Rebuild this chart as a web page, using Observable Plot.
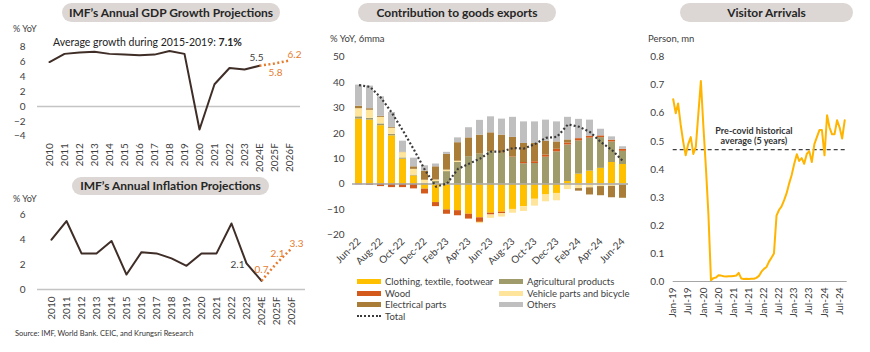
<!DOCTYPE html>
<html><head><meta charset="utf-8">
<script src="https://cdn.jsdelivr.net/npm/d3@7"></script>
<script src="https://cdn.jsdelivr.net/npm/@observablehq/plot@0.6"></script>
<style>
body{margin:0;background:#fff;font-family:Lato,"Open Sans",sans-serif;}
#wrap{position:relative;width:870px;height:352px;overflow:hidden;background:#fff}
.pill{position:absolute;background:#DCD7D4;border-radius:10px;text-align:center;font-weight:700;font-size:12px;color:#262626;white-space:nowrap}
.lbl{position:absolute;font-size:9px;color:#404040;white-space:nowrap}
.chart{position:absolute}
.chart svg{overflow:visible}
.leg{position:absolute;font-size:9.5px;color:#404040;white-space:nowrap;display:flex;align-items:center}
.sw{display:inline-block;width:24px;height:5px;margin-right:4px}
</style></head><body><div id="wrap"></div>
<script>
// ---------- DATA ----------
const years = ["2010","2011","2012","2013","2014","2015","2016","2017","2018","2019","2020","2021","2022","2023","2024E","2025F","2026F"];
const gdpGrowth = [6.0, 7.1, 7.3, 7.4, 7.1, 7.0, 6.9, 7.0, 7.5, 7.1, -3.1, 3.0, 5.2, 5.0, 5.5, 5.8, 6.2];
const inflation = [4.0, 5.5, 2.9, 2.9, 3.9, 1.2, 3.0, 2.9, 2.5, 1.9, 2.9, 2.9, 5.3, 2.1, 0.7, 2.1, 3.3];
const firstForecastYear = "2024E";
const gdpTicks = [-4, -2, 0, 2, 4, 6, 8];
const inflTicks = [0, 2, 4, 6];

const months = ["Jun-22","Jul-22","Aug-22","Sep-22","Oct-22","Nov-22","Dec-22","Jan-23","Feb-23","Mar-23","Apr-23","May-23","Jun-23","Jul-23","Aug-23","Sep-23","Oct-23","Nov-23","Dec-23","Jan-24","Feb-24","Mar-24","Apr-24","May-24","Jun-24"];
const clothing     = [25.6, 25.2, 23.0, 19.0, 9.8, 3.2, -2.0, -7.3, -10.2, -10.5, -11.9, -13.3, -11.5, -11.1, -10.0, -8.9, -6.0, -4.3, -3.7, 1.0, 3.9, 5.1, 6.2, 8.5, 7.7];
const agricultural = [0.9, 0.7, 0.7, 0.6, 0.5, 0.3, 0.3, 1.0, 4.9, 8.5, 10.8, 11.8, 12.7, 12.1, 10.5, 8.0, 8.1, 10.6, 12.7, 14.4, 13.1, 13.0, 12.1, 8.1, 5.2];
const wood         = [-0.3, -0.5, -1.0, -1.4, -1.4, -1.9, -1.9, -1.6, -1.7, -2.0, -1.9, -1.8, -0.7, -0.6, 0.2, 0.5, 0.7, 0.8, 1.0, 0.8, 0.9, 0.8, 0.7, 0.7, 0.8];
const vehicle      = [3.2, 3.2, 2.6, 2.4, 2.1, 2.3, 1.2, 0.6, 0.6, 0.5, 0.0, -0.5, -1.3, -1.3, -1.5, -1.9, -2.7, -2.7, -2.9, -2.2, -1.8, -1.5, -1.0, -0.9, -0.4];
const electrical   = [1.0, 0.6, 0.4, 0.3, 0.2, 1.0, 3.6, 5.2, 6.2, 7.3, 7.4, 7.5, 7.5, 7.2, 7.7, 7.5, 7.2, 5.5, 2.9, 1.2, -1.0, -2.8, -3.6, -4.5, -5.2];
const others       = [8.3, 8.9, 7.7, 5.9, 4.3, 3.4, 2.1, 1.1, 0.8, 1.9, 4.0, 5.8, 6.3, 6.3, 7.9, 8.5, 8.5, 8.3, 7.9, 8.9, 7.6, 6.3, 2.6, 1.3, 1.0];
const total        = [39.0, 38.3, 34.0, 28.0, 21.0, 13.5, 5.5, -1.0, 0.2, 6.0, 8.0, 10.0, 12.8, 12.8, 14.2, 14.0, 15.8, 18.2, 18.6, 23.5, 22.6, 20.5, 16.5, 13.4, 9.0];
const seriesNames = ["Clothing, textile, footwear","Agricultural products","Wood","Vehicle parts and bicycle","Electrical parts","Others"];
const seriesColors = ["#FFC000","#A09B6B","#D35A1A","#FFE59B","#A97C38","#BFBFBF"];
const exportTicks = [-20, -10, 0, 10, 20, 30, 40, 50];

const arrivalsStartYear = 2019;
const arrivals = [
  0.65, 0.60, 0.635, 0.56, 0.50, 0.45, 0.49, 0.515, 0.455, 0.48, 0.60, 0.715,
  0.55, 0.40, 0.24, 0.005, 0.012, 0.014, 0.022, 0.021, 0.019, 0.018, 0.019, 0.019,
  0.020, 0.021, 0.031, 0.011, 0.009, 0.010, 0.009, 0.010, 0.010, 0.013, 0.020, 0.035,
  0.045, 0.052, 0.070, 0.085, 0.100, 0.235, 0.255, 0.268, 0.290, 0.315, 0.350, 0.380,
  0.420, 0.454, 0.430, 0.440, 0.420, 0.455, 0.465, 0.426, 0.490, 0.515, 0.540, 0.540,
  0.450, 0.593, 0.550, 0.525, 0.525, 0.575, 0.550, 0.510, 0.575
];
const preCovidAverage = 0.47;
const arrivalTicks = [0, 0.1, 0.2, 0.3, 0.4, 0.5, 0.6, 0.7, 0.8];

// ---------- HELPERS ----------
const wrap = document.getElementById("wrap");
function place(el, left, top) { el.classList.add("chart"); el.style.left = left + "px"; el.style.top = top + "px"; wrap.appendChild(el); }
function div(cls, html, css) { const d = document.createElement("div"); d.className = cls; d.innerHTML = html; Object.assign(d.style, css); wrap.appendChild(d); return d; }
const baseStyle = {fontFamily: "Lato, 'Open Sans', sans-serif", fontSize: "10px", color: "#404040", background: "none", overflow: "visible"};
const DARK = "#3F2D27", ORANGE = "#E57C2F";

// ---------- GDP ----------
const fi = years.indexOf(firstForecastYear);
const gdpRows = years.map((y, i) => ({year: y, v: gdpGrowth[i]}));
const gdpChart = Plot.plot({
  width: 310, height: 172,
  marginLeft: 37, marginRight: 10, marginTop: 46.7, marginBottom: 172 - 135.7,
  style: baseStyle,
  x: {type: "point", domain: years, padding: 0.5, tickRotate: -90, tickSize: 0, tickPadding: 7, label: null},
  y: {domain: [-4, 8], ticks: gdpTicks, tickFormat: "d", tickSize: 0, tickPadding: 12, label: null},
  marks: [
    Plot.ruleY([0], {stroke: "#C4C4C4", strokeWidth: 1.5}),
    Plot.line(gdpRows.slice(0, fi + 1), {x: "year", y: "v", stroke: DARK, strokeWidth: 2}),
    Plot.line(gdpRows.slice(fi), {x: "year", y: "v", stroke: ORANGE, strokeWidth: 2.5, strokeDasharray: "2,2.5", strokeLinecap: "butt"}),
    Plot.text(gdpRows.slice(fi, fi + 1), {x: "year", y: "v", text: d => d.v.toFixed(1), fill: "#404040", dx: -3, dy: -8, fontSize: 10}),
    Plot.text(gdpRows.slice(fi + 1, fi + 2), {x: "year", y: "v", text: d => d.v.toFixed(1), fill: ORANGE, dx: 1, dy: 9, fontSize: 10}),
    Plot.text(gdpRows.slice(fi + 2), {x: "year", y: "v", text: d => d.v.toFixed(1), fill: ORANGE, dx: 5, dy: -6, fontSize: 10})
  ]
});
place(gdpChart, 0, 0);

// ---------- INFLATION ----------
const inflRows = years.map((y, i) => ({year: y, v: inflation[i]}));
const inflChart = Plot.plot({
  width: 310, height: 172,
  marginLeft: 37, marginRight: 5, marginTop: 44.3, marginBottom: 53,
  style: baseStyle,
  x: {type: "point", domain: years, padding: 0.5, tickRotate: -90, tickSize: 0, tickPadding: 7, label: null},
  y: {domain: [0, 6], ticks: inflTicks, tickFormat: "d", tickSize: 0, tickPadding: 12, label: null},
  marks: [
    Plot.ruleY([0], {stroke: "#C4C4C4", strokeWidth: 1.5}),
    Plot.line(inflRows.slice(0, fi + 1), {x: "year", y: "v", stroke: DARK, strokeWidth: 2}),
    Plot.line(inflRows.slice(fi), {x: "year", y: "v", stroke: ORANGE, strokeWidth: 2.5, strokeDasharray: "2,2.5", strokeLinecap: "butt"}),
    Plot.text(inflRows.slice(fi - 1, fi), {x: "year", y: "v", text: d => d.v.toFixed(1), fill: "#404040", dx: -9, dy: 1, fontSize: 10}),
    Plot.text(inflRows.slice(fi, fi + 1), {x: "year", y: "v", text: d => d.v.toFixed(1), fill: ORANGE, dx: 0, dy: -11, fontSize: 10}),
    Plot.text(inflRows.slice(fi + 1, fi + 2), {x: "year", y: "v", text: d => d.v.toFixed(1), fill: ORANGE, dx: 1, dy: -10, fontSize: 10}),
    Plot.text(inflRows.slice(fi + 2), {x: "year", y: "v", text: d => d.v.toFixed(1), fill: ORANGE, dx: 5, dy: -5, fontSize: 10})
  ]
});
place(inflChart, 0, 170);

// ---------- EXPORTS ----------
const seriesValues = [clothing, agricultural, wood, vehicle, electrical, others];
const barRows = [];
months.forEach((m, i) => seriesNames.forEach((s, k) => barRows.push({month: m, series: s, value: seriesValues[k][i]})));
const totalRows = months.map((m, i) => ({month: m, total: total[i]}));
const expChart = Plot.plot({
  width: 330, height: 275,
  marginLeft: 47, marginRight: 7, marginTop: 56.7, marginBottom: 275 - 234.3,
  style: baseStyle,
  x: {type: "band", domain: months, paddingInner: 0.4, paddingOuter: 0.2, ticks: months.filter((d, i) => i % 2 === 0), tickRotate: -45, tickSize: 0, tickPadding: 5, label: null},
  y: {domain: [-20, 50], ticks: exportTicks, tickSize: 0, tickPadding: 8, label: null},
  color: {domain: seriesNames, range: seriesColors},
  marks: [
    Plot.barY(barRows, {x: "month", y: "value", fill: "series", order: seriesNames}),
    Plot.ruleY([0], {stroke: "#A6A6A6", strokeWidth: 1.5}),
    Plot.line(totalRows, {x: "month", y: "total", stroke: "#3A3A3A", strokeWidth: 2.2, strokeDasharray: "2,2.2", strokeLinecap: "butt"})
  ]
});
place(expChart, 305, 0);

// ---------- VISITORS ----------
const t0 = new Date(Date.UTC(arrivalsStartYear, 0, 1));
const arrRows = arrivals.map((v, i) => ({date: d3.utcMonth.offset(t0, i), v}));
const xEnd = d3.utcMonth.offset(t0, arrivals.length);
const visChart = Plot.plot({
  width: 240, height: 330,
  marginLeft: 42.7, marginRight: 23.3, marginTop: 56.7, marginBottom: 49,
  style: baseStyle,
  x: {type: "utc", domain: [t0, xEnd], ticks: d3.utcMonth.every(6).range(t0, xEnd), tickFormat: d3.utcFormat("%b-%y"), tickRotate: -90, tickSize: 0, tickPadding: 6, label: null},
  y: {domain: [0, 0.8], ticks: arrivalTicks, tickFormat: ".1f", tickSize: 0, tickPadding: 9, label: null},
  marks: [
    Plot.ruleY([0], {stroke: "#A6A6A6", strokeWidth: 1.2}),
    Plot.ruleY([preCovidAverage], {stroke: "#404040", strokeWidth: 1.2, strokeDasharray: "4,3"}),
    Plot.line(arrRows, {x: "date", y: "v", stroke: "#FFB400", strokeWidth: 2}),
    Plot.text(["Pre-covid historical\naverage (5 years)"], {x: () => d3.utcMonth.offset(t0, 32), y: () => preCovidAverage, text: d => d, dy: -6, lineAnchor: "bottom", fontWeight: "bold", fontSize: 9, fill: "#333", lineHeight: 1.1})
  ]
});
place(visChart, 630, 0);

// ---------- TEXT ----------
div("pill", "IMF’s Annual GDP Growth Projections", {left: "62px", top: "3px", width: "218px", height: "19px", lineHeight: "19px"});
div("pill", "IMF’s Annual Inflation Projections", {left: "72px", top: "177px", width: "197px", height: "18px", lineHeight: "18px"});
div("pill", "Contribution to goods exports", {left: "358px", top: "3px", width: "198px", height: "19px", lineHeight: "19px"});
div("pill", "Visitor Arrivals", {left: "680px", top: "3px", width: "173px", height: "19px", lineHeight: "19px"});
div("lbl", "% YoY", {left: "13px", top: "23px"});
div("lbl", "% YoY", {left: "13px", top: "193px"});
div("lbl", "Average growth during 2015-2019: <b>7.1%</b>", {left: "53px", top: "36px", fontSize: "10.5px", color: "#222"});
div("lbl", "% YoY, 6mma", {left: "330px", top: "33px", fontSize: "9.5px"});
div("lbl", "Person, mn", {left: "648px", top: "33px", fontSize: "9.5px"});
div("lbl", "Source: IMF, World Bank. CEIC, and Krungsri Research", {left: "15px", top: "329px", fontSize: "7.5px", color: "#333"});

// legend
const legPos = [[357, 276], [499, 276], [357, 287.6], [499, 287.6], [357, 299.2], [499, 299.2]];
seriesNames.forEach((s, k) => {
  div("leg", `<span class="sw" style="background:${seriesColors[k]}"></span>${s}`, {left: legPos[k][0] + "px", top: legPos[k][1] + "px"});
});
div("leg", `<span class="sw" style="height:0;border-top:2px dotted #3A3A3A"></span>Total`, {left: "357px", top: "310.8px"});
</script></body></html>
